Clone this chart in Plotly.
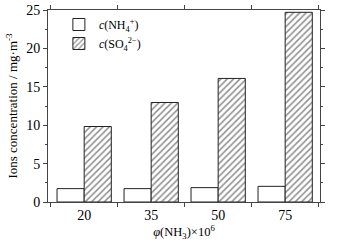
import plotly.graph_objects as go

categories = ["20", "35", "50", "75"]
nh4 = [1.74, 1.74, 1.87, 2.04]
so4 = [9.83, 12.96, 16.09, 24.7]
y_ticks = [0, 5, 10, 15, 20, 25]

font = "Liberation Serif, Times New Roman, serif"

fig = go.Figure()
fig.add_trace(go.Bar(
    x=categories, y=nh4, name="<i>c</i>(NH<sub>4</sub><sup>+</sup>)",
    marker=dict(color="white", line=dict(color="#222", width=1)),
))
fig.add_trace(go.Bar(
    x=categories, y=so4, name="<i>c</i>(SO<sub>4</sub><sup>2−</sup>)",
    marker=dict(color="white", line=dict(color="#222", width=1),
                pattern=dict(shape="/", fgcolor="#222", bgcolor="white", size=4.5, solidity=0.35)),
))

fig.update_layout(
    width=338, height=245,
    margin=dict(l=48, r=18, t=10, b=43, autoexpand=False),
    paper_bgcolor="white", plot_bgcolor="white",
    barmode="group", bargap=0.19, bargroupgap=0,
    font=dict(family=font, size=14, color="black"),
    showlegend=True,
    legend=dict(x=0.04, y=1.0, xanchor="left", yanchor="top",
                bgcolor="rgba(0,0,0,0)", font=dict(size=12),
                tracegroupgap=0, itemwidth=30),
    xaxis=dict(
        range=[-0.54, 3.52], showline=True, linecolor="#444", linewidth=1, mirror="ticks",
        ticks="outside", ticklen=4, tickcolor="#444", tickson="boundaries", automargin=False,
        title=dict(text="<i>φ</i>(NH<sub>3</sub>)×10<sup>6</sup>", font=dict(size=12.5), standoff=3),
        tickfont=dict(size=14),
    ),
    yaxis=dict(
        range=[0, 25], tickvals=y_ticks, showline=True, linecolor="#444", linewidth=1, mirror="ticks",
        ticks="outside", ticklen=4, tickcolor="#444", showgrid=False, zeroline=False, automargin=False,
        minor=dict(ticks="outside", ticklen=2, dtick=2.5, tickcolor="#444"),
        title=dict(text="Ions concentration / mg·m<sup>-3</sup>", font=dict(size=13), standoff=5),
        tickfont=dict(size=14),
    ),
)
fig.write_html("out.html", config={"displayModeBar": False},
               post_script="document.body.style.margin='0';document.body.style.padding='0';")
